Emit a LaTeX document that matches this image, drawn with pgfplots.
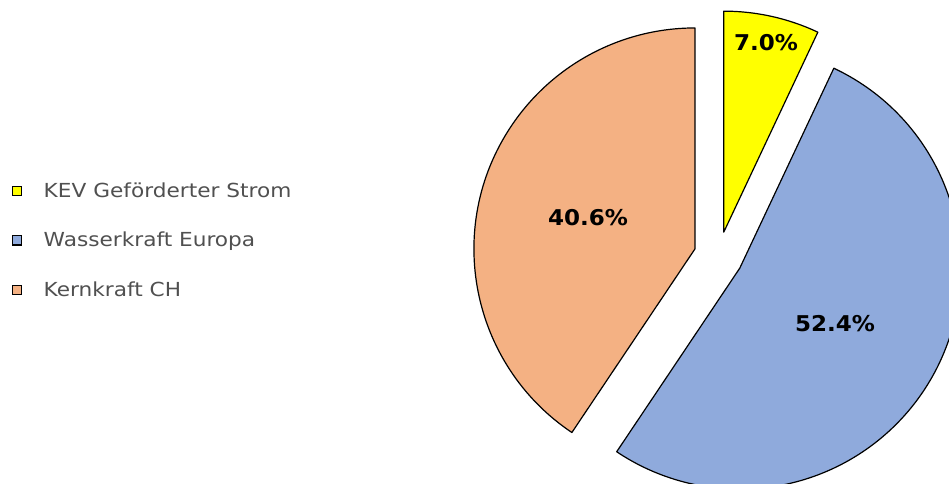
\documentclass[border=0pt]{standalone}
\usepackage{pgfplots}
\pgfplotsset{compat=1.18}
\usetikzlibrary{calc}
\usepackage{fontspec}
\setmainfont{DejaVu Sans}
\newfontfamily\legfont{DejaVu Sans}[FakeStretch=1.12]
\newfontfamily\labfont{DejaVu Sans}[FakeStretch=1.06]

\definecolor{kev}{HTML}{FFFF00}
\definecolor{wasser}{HTML}{8FAADC}
\definecolor{kern}{HTML}{F4B183}
\definecolor{legtext}{HTML}{505050}

% shares in percent
\def\vKEV{7.0}
\def\vWasser{52.4}
\def\vKern{40.6}

% angles, clockwise from the top
\pgfmathsetmacro\aStart{90}
\pgfmathsetmacro\aA{\aStart-3.6*\vKEV}
\pgfmathsetmacro\aB{\aA-3.6*\vWasser}
\pgfmathsetmacro\aC{\aB-3.6*\vKern}
\pgfmathsetmacro\mA{(\aStart+\aA)/2}
\pgfmathsetmacro\mB{(\aA+\aB)/2}
\pgfmathsetmacro\mC{(\aB+\aC)/2}

\def\R{165.75pt}   % pie radius
\def\D{18.4pt}     % explosion
\def\cx{718.4}
\def\cy{226.9}

\begin{document}
\begin{tikzpicture}
\useasboundingbox (0,0) rectangle (711.75pt,362.25pt);
\clip (0,0) rectangle (711.75pt,362.25pt);
\begin{axis}[
    scale only axis,
    width=711.75pt, height=362.25pt,
    xmin=0, xmax=949, ymin=0, ymax=483,
    hide axis,
    clip=true,
    legend cell align=left,
    legend style={draw=none, fill=none, at={(axis cs:8,242.5)}, anchor=west,
        font=\legfont\fontsize{14.5pt}{17pt}\selectfont, text=legtext,
        row sep=20.6pt},
    legend image code/.code={
        \draw[#1, line width=0.8pt] (0pt,-3.4pt) rectangle (6.8pt,3.4pt);
        \path (0pt,0pt) (21pt,0pt);
    },
]
\addlegendimage{fill=kev, draw=black}
\addlegendentry{KEV Geförderter Strom}
\addlegendimage{fill=wasser, draw=black}
\addlegendentry{Wasserkraft Europa}
\addlegendimage{fill=kern, draw=black}
\addlegendentry{Kernkraft CH}

\filldraw[fill=kev, draw=black, line width=0.9pt, line join=round]
    ($(axis cs:\cx,\cy)+(\mA:\D)$) -- ++(\aStart:\R)
    arc[start angle=\aStart, end angle=\aA, radius=\R] -- cycle;
\filldraw[fill=wasser, draw=black, line width=0.9pt, line join=round]
    ($(axis cs:\cx,\cy)+(\mB:\D)$) -- ++(\aA:\R)
    arc[start angle=\aA, end angle=\aB, radius=\R] -- cycle;
\filldraw[fill=kern, draw=black, line width=0.9pt, line join=round]
    ($(axis cs:\cx,\cy)+(\mC:\D)$) -- ++(\aB:\R)
    arc[start angle=\aB, end angle=\aC, radius=\R] -- cycle;

\node[font=\labfont\fontsize{16.3pt}{19pt}\selectfont\bfseries] at (axis cs:766,440) {7.0\%};
\node[font=\labfont\fontsize{16.3pt}{19pt}\selectfont\bfseries] at (axis cs:835,159) {52.4\%};
\node[font=\labfont\fontsize{16.3pt}{19pt}\selectfont\bfseries] at (axis cs:588,265) {40.6\%};
\end{axis}
\end{tikzpicture}
\end{document}
